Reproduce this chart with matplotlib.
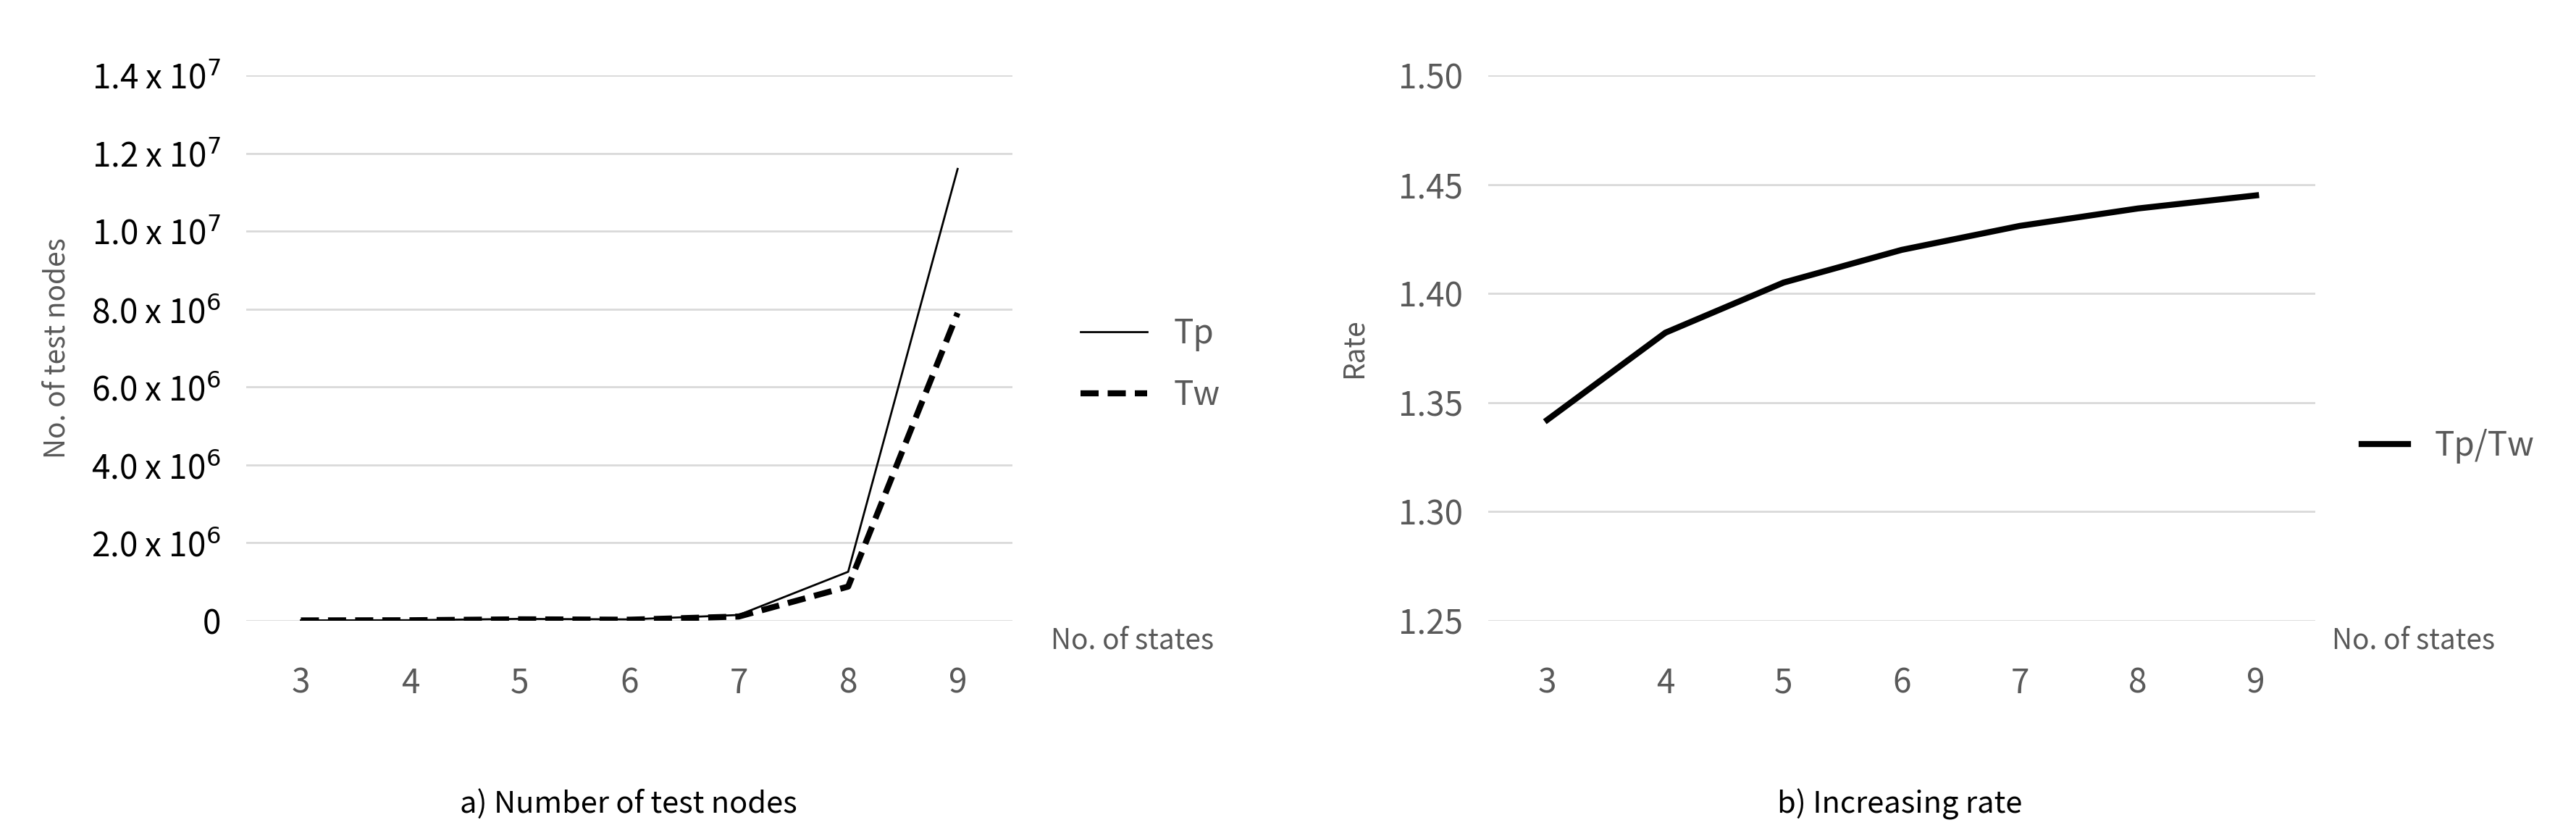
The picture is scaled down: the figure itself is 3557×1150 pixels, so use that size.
import numpy as np
import matplotlib.pyplot as plt

plt.rcParams['font.family'] = ['Noto Sans CJK KR', 'DejaVu Sans']

states = [3, 4, 5, 6, 7, 8, 9]
tp = [1.2e3, 6.5e3, 4.0e4, 2.7e4, 1.4e5, 1.25e6, 1.16e7]
tw = [0.9e3, 4.8e3, 2.9e4, 1.9e4, 1.0e5, 0.87e6, 7.9e6]
rate = [1.342, 1.382, 1.405, 1.420, 1.431, 1.439, 1.445]

W, H = 1570, 507.5
fig = plt.figure(figsize=(35.57, 11.5), dpi=100)
gray = '#595959'
tfs = 33

def fx(px):
    return px / W

def fy(py):
    return 1 - py / H

# a) number of test nodes
ax1 = fig.add_axes([fx(150), fy(378), fx(617) - fx(150), fy(46) - fy(378)])
ax1.plot(states, tp, color='black', lw=2, label='Tp')
ax1.plot(states, tw, color='black', lw=6, ls=(0, (3, 1.5)), label='Tw')
ax1.set_xlim(2.5, 9.5)
ax1.set_ylim(0, 1.4e7)
yt = np.arange(0, 1.41e7, 2e6)
ax1.set_yticks(yt)
ylab = ['0'] + [f'{v / 10**(6 if v < 1e7 else 7):.1f} x 10$^{{{6 if v < 1e7 else 7}}}$' for v in yt[1:]]
ax1.set_yticklabels(ylab, fontsize=tfs, color='black')
ax1.set_ylabel('No. of test nodes', fontsize=28, color=gray, labelpad=20)
ax1.text(1.05, -0.01, 'No. of states', transform=ax1.transAxes, fontsize=28, color=gray, va='top')
ax1.legend(loc='center left', bbox_to_anchor=(1.05, 0.47), frameon=False, fontsize=tfs,
           handlelength=2.0, labelspacing=0.8, labelcolor=gray)
fig.text(fx(383), fy(490), 'a) Number of test nodes', fontsize=30, ha='center', va='center')

# b) increasing rate
ax2 = fig.add_axes([fx(907), fy(378), fx(1411) - fx(907), fy(46) - fy(378)])
ax2.plot(states, rate, color='black', lw=6, label='Tp/Tw')
ax2.set_xlim(2.5, 9.5)
ax2.set_ylim(1.25, 1.50)
ax2.set_yticks(np.arange(1.25, 1.501, 0.05))
ax2.set_yticklabels([f'{v:.2f}' for v in np.arange(1.25, 1.501, 0.05)], fontsize=tfs, color=gray)
ax2.set_ylabel('Rate', fontsize=28, color=gray, labelpad=30)
ax2.text(1.02, -0.01, 'No. of states', transform=ax2.transAxes, fontsize=28, color=gray, va='top')
ax2.legend(loc='center left', bbox_to_anchor=(1.02, 0.32), frameon=False, fontsize=tfs,
           handlelength=1.4, labelcolor=gray)
fig.text(fx(1158), fy(490), 'b) Increasing rate', fontsize=30, ha='center', va='center')

for ax in (ax1, ax2):
    for s in ax.spines.values():
        s.set_visible(False)
    ax.yaxis.grid(True, color='#d9d9d9', lw=2)
    ax.set_axisbelow(True)
    ax.set_xticks(states)
    ax.set_xticklabels([str(s) for s in states], fontsize=tfs, color=gray)
    ax.tick_params(length=0, axis='x', pad=45)
    ax.tick_params(length=0, axis='y', pad=25)

fig.savefig('out.png', dpi=100)
